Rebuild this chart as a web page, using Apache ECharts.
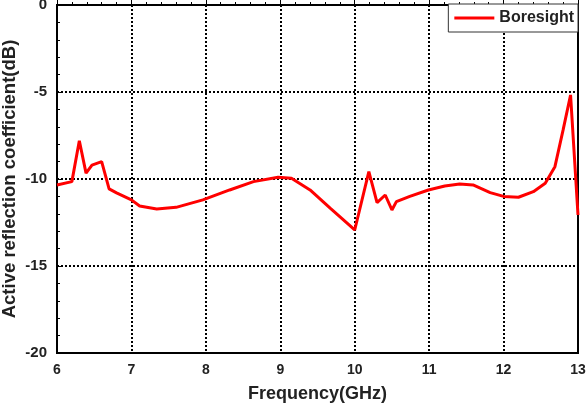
<!DOCTYPE html>
<html>
<head>
<meta charset="utf-8">
<script src="https://cdn.jsdelivr.net/npm/echarts@6/dist/echarts.min.js"></script>
<style>
  html, body { margin: 0; padding: 0; background: #fff; }
  #chart { width: 586px; height: 408px; }
</style>
</head>
<body>
<div id="chart"></div>
<script>
var freq = [6.0, 6.2, 6.3, 6.39, 6.47, 6.6, 6.7, 6.8, 7.0, 7.11, 7.34, 7.6, 7.96, 8.32,
  8.64, 8.97, 9.15, 9.4, 9.67, 10.0, 10.19, 10.3, 10.41, 10.5, 10.56, 10.74, 10.99,
  11.21, 11.41, 11.59, 11.82, 12.0, 12.2, 12.4, 12.56, 12.69, 12.8, 12.9, 13.0];
var boresight = [-10.34, -10.15, -7.8, -9.66, -9.2, -9.0, -10.57, -10.8, -11.2, -11.55, -11.72, -11.63, -11.2, -10.63,
  -10.15, -9.9, -9.96, -10.63, -11.68, -12.93, -9.58, -11.36, -10.92, -11.78, -11.3, -11.0, -10.63,
  -10.4, -10.29, -10.34, -10.78, -11.0, -11.05, -10.73, -10.25, -9.29, -7.18, -5.17, -12.07];
var seriesName = 'Boresight';

var chart = echarts.init(document.getElementById('chart'));
var font = 'Liberation Sans, Arial, sans-serif';

var points = freq.map(function(f, i) { return [f, boresight[i]]; });

chart.setOption({
  animation: false,
  grid: {
    left: 57, right: 8, top: 5, bottom: 55,
    outerBoundsMode: 'none',
    containLabel: false,
    show: true, borderColor: '#000', borderWidth: 2
  },
  legend: {
    right: 8, top: 4,
    padding: [6, 4, 6, 6],
    backgroundColor: '#fff',
    borderColor: '#333', borderWidth: 1,
    itemWidth: 40, itemHeight: 3, itemGap: 6,
    icon: 'rect',
    textStyle: { fontFamily: font, fontWeight: 'bold', fontSize: 16, color: '#222' },
    data: [seriesName]
  },
  xAxis: {
    type: 'value', min: 6, max: 13, interval: 1,
    name: 'Frequency(GHz)', nameLocation: 'middle', nameGap: 32, nameMoveOverlap: false,
    nameTextStyle: { fontFamily: font, fontWeight: 'bold', fontSize: 18, color: '#222' },
    axisLine: { lineStyle: { color: '#000', width: 2 } },
    axisTick: { inside: true, length: 5, lineStyle: { color: '#000' } },
    minorTick: { show: true, splitNumber: 5, length: 3, lineStyle: { color: '#000' } },
    axisLabel: { fontFamily: font, fontWeight: 'bold', fontSize: 14, color: '#222', margin: 10 },
    splitLine: { show: true, lineStyle: { color: '#000', type: [2, 2], width: 2 } }
  },
  yAxis: {
    type: 'value', min: -20, max: 0, interval: 5,
    name: 'Active reflection coefficient(dB)', nameLocation: 'middle', nameGap: 38, nameMoveOverlap: false,
    nameTextStyle: { fontFamily: font, fontWeight: 'bold', fontSize: 18.5, color: '#222' },
    axisLine: { show: true, lineStyle: { color: '#000', width: 2 } },
    axisTick: { show: true, inside: true, length: 5, lineStyle: { color: '#000' } },
    minorTick: { show: true, splitNumber: 5, length: 3, lineStyle: { color: '#000' } },
    axisLabel: { fontFamily: font, fontWeight: 'bold', fontSize: 15, color: '#222', margin: 10 },
    splitLine: { show: true, lineStyle: { color: '#000', type: [2, 2], width: 2 } }
  },
  series: [{
    name: seriesName,
    type: 'line',
    data: points,
    showSymbol: false,
    color: '#ff0000',
    lineStyle: { color: '#ff0000', width: 3 },
    z: 5
  }]
});
</script>
</body>
</html>
